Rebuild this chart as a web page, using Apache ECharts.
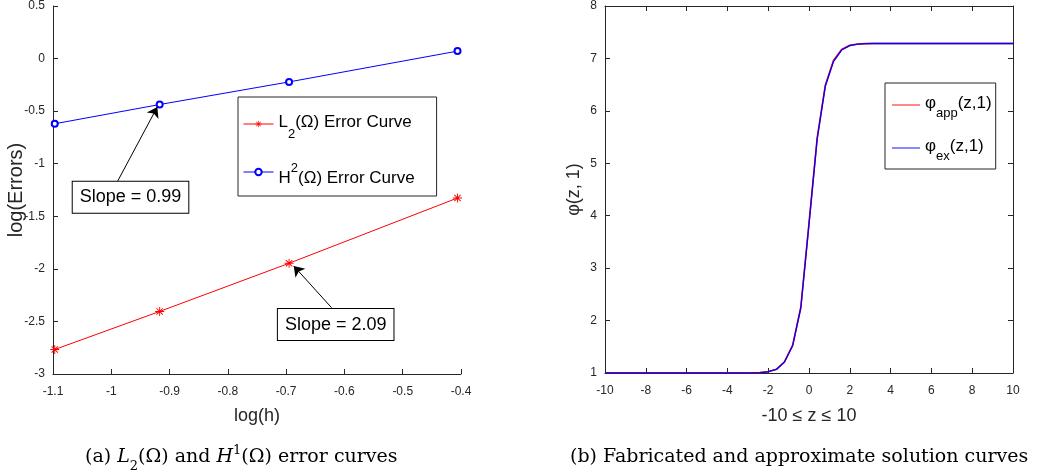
<!DOCTYPE html>
<html>
<head>
<meta charset="utf-8">
<script src="https://cdn.jsdelivr.net/npm/echarts@6/dist/echarts.min.js"></script>
<style>
html,body{margin:0;padding:0;background:#fff;}
#chart{width:1039px;height:475px;}
</style>
</head>
<body>
<div id="chart"></div>
<script>
// ---------- Data: left panel (error curves) ----------
const logH = [-1.097, -0.917, -0.695, -0.406];
const logErrL2 = [-2.767, -2.405, -1.947, -1.326];
const logErrH2 = [-0.620, -0.437, -0.222, 0.071];
const leftXTicks = {min: -1.1, max: -0.4, step: 0.1};
const leftYTicks = {min: -3, max: 0.5, step: 0.5};

// ---------- Data: right panel (solution curves) ----------
const zVals = [-10, -9.6, -9.2, -8.8, -8.4, -8, -7.6, -7.2, -6.8, -6.4, -6, -5.6, -5.2, -4.8, -4.4, -4, -3.6, -3.2,
  -2.8, -2.4, -2, -1.6, -1.2, -0.8, -0.4, 0, 0.4, 0.8, 1.2, 1.6, 2, 2.4, 2.8,
  3.2, 3.6, 4, 4.4, 4.8, 5.2, 5.6, 6, 6.4, 6.8, 7.2, 7.6, 8, 8.4, 8.8, 9.2, 9.6, 10];
const phiApp = [1, 1, 1, 1, 1, 1, 1, 1, 1, 1, 1, 1, 1, 1, 1, 1, 1, 1,
  1.003, 1.008, 1.025, 1.07, 1.215, 1.53, 2.26, 3.86, 5.48, 6.49, 6.96, 7.17, 7.25, 7.275, 7.283,
  7.285, 7.285, 7.285, 7.285, 7.285, 7.285, 7.285, 7.285, 7.285, 7.285, 7.285, 7.285, 7.285, 7.285, 7.285, 7.285, 7.285, 7.285];
const phiEx = [1, 1, 1, 1, 1, 1, 1, 1, 1, 1, 1, 1, 1, 1, 1, 1, 1, 1,
  1.003, 1.008, 1.024, 1.068, 1.21, 1.52, 2.24, 3.84, 5.46, 6.47, 6.94, 7.16, 7.245, 7.273, 7.282,
  7.285, 7.285, 7.285, 7.285, 7.285, 7.285, 7.285, 7.285, 7.285, 7.285, 7.285, 7.285, 7.285, 7.285, 7.285, 7.285, 7.285, 7.285];
const rightXTicks = {min: -10, max: 10, step: 2};
const rightYTicks = {min: 1, max: 8, step: 1};

// ---------- Annotations (data coordinates) ----------
const slopeH2 = {text: 'Slope = 0.99', box: [-0.967, -1.32], tail: [-0.989, -1.165], head: [-0.921, -0.46]};
const slopeL2 = {text: 'Slope = 2.09', box: [-0.615, -2.53], tail: [-0.622, -2.37], head: [-0.687, -1.972]};

const FONT = "'Liberation Sans', Arial, Helvetica, sans-serif";
const SERIF = "'DejaVu Serif', serif";
const AX = '#262626';

function fmt1(v){ return String(Math.round(v * 10) / 10); }

const asterisk = 'path://M4.5 0L5.5 0L5.5 10L4.5 10Z M0 4.5L10 4.5L10 5.5L0 5.5Z M1.15 1.85L1.85 1.15L8.85 8.15L8.15 8.85Z M8.15 1.15L8.85 1.85L1.85 8.85L1.15 8.15Z';

function valueAxis(grid, pos, t, opts){
  return Object.assign({
    type: 'value', gridIndex: grid, position: pos,
    min: t.min, max: t.max, interval: t.step,
    axisLine: {show: true, onZero: false, lineStyle: {color: AX, width: 1}},
    axisTick: {show: true, inside: true, length: 5, lineStyle: {color: AX}},
    splitLine: {show: false},
    axisLabel: {show: true, color: AX, fontFamily: FONT, fontSize: 12, margin: 8, formatter: fmt1}
  }, opts || {});
}

function annotation(a){
  return {
    markLine: {
      silent: true, animation: false,
      symbol: ['none', 'arrow'], symbolSize: 10,
      lineStyle: {color: '#000', width: 1, type: 'solid'},
      label: {show: false},
      emphasis: {disabled: true},
      data: [[{coord: a.tail}, {coord: a.head}]]
    },
    markPoint: {
      silent: true, animation: false,
      symbol: 'rect', symbolSize: 1,
      itemStyle: {color: 'rgba(0,0,0,0)'},
      label: {
        show: true, position: 'inside', formatter: a.text,
        color: '#000', fontFamily: FONT, fontSize: 18,
        backgroundColor: '#fff', borderColor: '#000', borderWidth: 1,
        padding: [7, 7, 6, 7]
      },
      data: [{coord: a.box}]
    }
  };
}

const chart = echarts.init(document.getElementById('chart'), null, {renderer: 'canvas'});

const xLabel = {show: true, color: AX, fontFamily: FONT, fontSize: 12, margin: 12, formatter: fmt1};

const option = {
  animation: false,
  backgroundColor: '#fff',
  grid: [
    {left: 53, top: 4, width: 408, height: 370},
    {left: 605, top: 4, width: 408, height: 369}
  ],
  xAxis: [
    valueAxis(0, 'bottom', leftXTicks, {
      axisLabel: xLabel,
      name: 'log(h)', nameLocation: 'middle', nameGap: 33,
      nameTextStyle: {color: AX, fontFamily: FONT, fontSize: 18}
    }),
    valueAxis(1, 'bottom', rightXTicks, {
      axisLabel: xLabel,
      name: '-10 \u2264 z \u2264 10', nameLocation: 'middle', nameGap: 34,
      nameTextStyle: {color: AX, fontFamily: FONT, fontSize: 18}
    }),
    valueAxis(1, 'top', rightXTicks, {axisLabel: {show: false}})
  ],
  yAxis: [
    valueAxis(0, 'left', leftYTicks, {
      name: 'log(Errors)', nameLocation: 'middle', nameGap: 27, nameMoveOverlap: false,
      nameTextStyle: {color: AX, fontFamily: FONT, fontSize: 20}
    }),
    valueAxis(1, 'left', rightYTicks, {
      name: '\u03c6(z, 1)', nameLocation: 'middle', nameGap: 22,
      nameTextStyle: {color: AX, fontFamily: FONT, fontSize: 18}
    }),
    valueAxis(1, 'right', rightYTicks, {axisLabel: {show: false}})
  ],
  legend: [
    {
      data: ['L2 Error Curve', 'H2 Error Curve'],
      orient: 'vertical', left: 238, top: 97,
      itemWidth: 30, itemHeight: 8, itemGap: 21,
      padding: [17, 22, 9, 5],
      borderColor: '#262626', borderWidth: 1, backgroundColor: '#fff',
      selectedMode: false,
      lineStyle: {width: 1},
      formatter: function(name){
        if (name === 'L2 Error Curve') return '{n|L}{sub|2}{n|(\u03a9) Error Curve}';
        return '{nh|H}{sup|2}{nh|(\u03a9) Error Curve}';
      },
      textStyle: {
        fontFamily: FONT, fontSize: 17, color: '#000',
        rich: {
          n: {fontFamily: FONT, fontSize: 17, color: '#000', lineHeight: 20, verticalAlign: 'top'},
          sub: {fontFamily: FONT, fontSize: 13, color: '#000', lineHeight: 14, padding: [14, 0, 0, 0], verticalAlign: 'top'},
          nh: {fontFamily: FONT, fontSize: 17, color: '#000', lineHeight: 20, padding: [8, 0, 0, 0], verticalAlign: 'top'},
          sup: {fontFamily: FONT, fontSize: 13, color: '#000', lineHeight: 14, verticalAlign: 'top'}
        }
      }
    },
    {
      data: ['phi app', 'phi ex'],
      orient: 'vertical', left: 885, top: 83,
      itemWidth: 28, itemHeight: 10, itemGap: 18,
      padding: [12, 4, 6, 7],
      borderColor: '#262626', borderWidth: 1, backgroundColor: '#fff',
      selectedMode: false,
      icon: 'path://M0 4.5L30 4.5L30 5.5L0 5.5Z',
      formatter: function(name){
        if (name === 'phi app') return '{n|\u03c6}{sub|app}{n|(z,1)}';
        return '{n|\u03c6}{sub|ex}{n|(z,1)}';
      },
      textStyle: {
        fontFamily: FONT, fontSize: 17, color: '#000',
        rich: {
          n: {fontFamily: FONT, fontSize: 17, color: '#000', lineHeight: 20, verticalAlign: 'top'},
          sub: {fontFamily: FONT, fontSize: 13, color: '#000', lineHeight: 14, padding: [12, 0, 0, 0], verticalAlign: 'top'}
        }
      }
    }
  ],
  title: [
    {
      text: '{n|(a) }{i|L}{s|2}{n|(\u03a9) and }{i|H}{p|1}{n|(\u03a9) error curves}',
      left: 80, top: 439,
      textStyle: {
        fontWeight: 'normal',
        rich: {
          n: {fontFamily: SERIF, fontWeight: 'normal', fontSize: 19, color: '#000', lineHeight: 22, padding: [4, 0, 0, 0], verticalAlign: 'top'},
          i: {fontFamily: SERIF, fontWeight: 'normal', fontStyle: 'italic', fontSize: 19, color: '#000', lineHeight: 22, padding: [4, 0, 0, 0], verticalAlign: 'top'},
          s: {fontFamily: SERIF, fontWeight: 'normal', fontSize: 13, color: '#000', lineHeight: 14, padding: [16, 0, 0, 0], verticalAlign: 'top'},
          p: {fontFamily: SERIF, fontWeight: 'normal', fontSize: 13, color: '#000', lineHeight: 14, verticalAlign: 'top'}
        }
      }
    },
    {
      text: '(b) Fabricated and approximate solution curves',
      left: 565, top: 443,
      textStyle: {fontFamily: SERIF, fontSize: 19, fontWeight: 'normal', color: '#000'}
    }
  ],
  series: [
    Object.assign({
      name: 'L2 Error Curve', type: 'line', xAxisIndex: 0, yAxisIndex: 0,
      data: logH.map((x, i) => [x, logErrL2[i]]),
      color: '#ff0000',
      lineStyle: {width: 1, color: '#ff0000'},
      symbol: asterisk, symbolSize: 9, showAllSymbol: true,
      itemStyle: {color: '#ff0000'},
      emphasis: {disabled: true}, z: 3
    }, annotation(slopeL2)),
    Object.assign({
      name: 'H2 Error Curve', type: 'line', xAxisIndex: 0, yAxisIndex: 0,
      data: logH.map((x, i) => [x, logErrH2[i]]),
      color: '#0000ff',
      lineStyle: {width: 1, color: '#0000ff'},
      symbol: 'emptyCircle', symbolSize: 6, showAllSymbol: true,
      itemStyle: {color: '#0000ff', borderColor: '#0000ff', borderWidth: 1},
      emphasis: {disabled: true}, z: 3
    }, annotation(slopeH2)),
    {
      name: 'phi app', type: 'line', xAxisIndex: 1, yAxisIndex: 1,
      data: zVals.map((z, i) => [z, phiApp[i]]),
      color: '#ff0000', showSymbol: false, symbol: 'none',
      lineStyle: {width: 1.6, color: '#ff0000'},
      emphasis: {disabled: true}
    },
    {
      name: 'phi ex', type: 'line', xAxisIndex: 1, yAxisIndex: 1,
      data: zVals.map((z, i) => [z, phiEx[i]]),
      color: '#0000ff', showSymbol: false, symbol: 'none',
      lineStyle: {width: 1.3, color: '#0000ff'},
      emphasis: {disabled: true}
    }
  ]
};
chart.setOption(option);
</script>
</body>
</html>
